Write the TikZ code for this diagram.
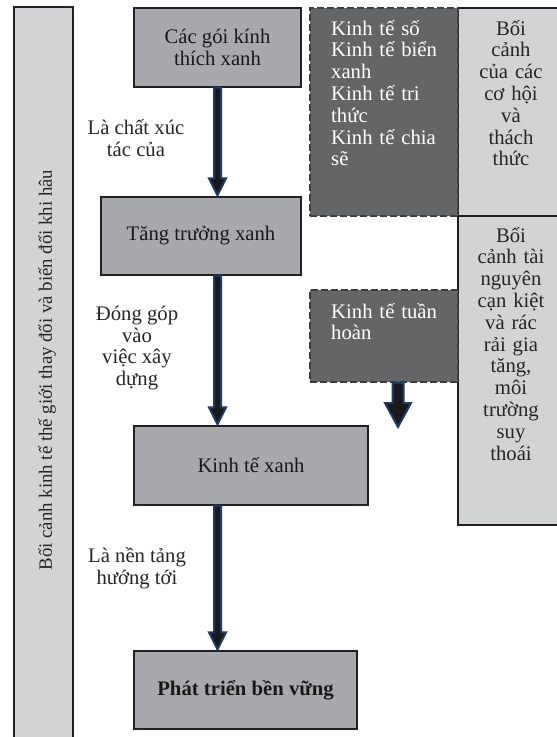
\documentclass[tikz,border=0pt]{standalone}
\usepackage{fontspec}
\setmainfont{Liberation Serif}
\usetikzlibrary{calc}
\definecolor{midgray}{HTML}{A7A9AC}
\definecolor{darkbox}{HTML}{646567}
\definecolor{lightbox}{HTML}{D1D3D4}
\definecolor{navyedge}{HTML}{1D3A6B}
\definecolor{edgecol}{HTML}{231F20}
\definecolor{dashcol}{HTML}{3C3C3E}
\newcommand\diagfont{\fontsize{20.7}{21.8}\selectfont}
\newcommand\barfont{\fontsize{18.8}{21}\selectfont}
\tikzset{
  mainbox/.style={draw=edgecol, line width=1.1pt, fill=midgray, inner sep=0pt, align=center, font=\diagfont, text=black!90},
  dashbox/.style={draw=dashcol, line width=1.8pt, dash pattern=on 7pt off 3pt, fill=darkbox, inner sep=0pt},
  ctxbox/.style={draw=edgecol, line width=1.1pt, fill=lightbox, inner sep=0pt},
  whitetext/.style={text=white, font=\diagfont, align=left, inner sep=0pt, text width=120pt},
  ctxtext/.style={text=black!85, font=\diagfont, align=center, inner sep=0pt, text width=90pt},
  lbl/.style={font=\diagfont, align=center, inner sep=0pt, text=black!85},
  arrowst/.style={draw=navyedge, line width=2pt, fill=black!90, line join=miter},
}
% fat arrow from node #1 to node #2, on the vertical line through node #3
\newcommand\fatarrow[3]{%
  \coordinate (#1-#2-from) at (#1.south -| #3.south);
  \coordinate (#1-#2-tip) at (#2.north -| #3.south);
  \filldraw[arrowst] ($(#1-#2-from)+(-3.5,0)$) -- ($(#1-#2-tip)+(-3.5,18)$) -- ($(#1-#2-tip)+(-8.5,18)$) -- ($(#1-#2-tip)+(0,1)$)
     -- ($(#1-#2-tip)+(8.5,18)$) -- ($(#1-#2-tip)+(3.5,18)$) -- ($(#1-#2-from)+(3.5,0)$) -- cycle;}
\begin{document}
\begin{tikzpicture}[x=1pt,y=1pt]
\useasboundingbox (0,0) rectangle (557,-737);
% left context bar
\node[ctxbox, minimum width=59pt, minimum height=734pt] (bar) at (43.5,-374) {};
\node[lbl, font=\barfont, rotate=90] (bartext) at (47,-370) {Bối cảnh kinh tế thế giới thay đổi và biến đổi khi hâu};
% main chain
\node[mainbox, minimum width=167pt, minimum height=79pt] (goi) at (217.5,-47.5) {Các gói kính\\thích xanh};
\node[mainbox, minimum width=200pt, minimum height=78pt] (tang) at (201,-236) {Tăng trưởng xanh};
\node[mainbox, minimum width=234pt, minimum height=79pt] (ktx) at (251,-465.5) {Kinh tế xanh};
\node[mainbox, minimum width=223pt, minimum height=78pt] (ptbv) at (245.5,-690) {\textbf{Phát triển bền vững}};
% right context boxes
\node[ctxbox, minimum width=108pt, minimum height=208pt] (ctx1) at (512,-112) {};
\node[ctxbox, minimum width=108pt, minimum height=309pt] (ctx2) at (512,-370.5) {};
\node[ctxtext, anchor=base] (ctx1t) at (511,-35) {Bối\\cảnh\\của các\\cơ hội\\và\\thách\\thức};
\node[ctxtext, anchor=base] (ctx2t) at (511,-242) {Bối\\cảnh tài\\nguyên\\cạn kiệt\\và rác\\rải gia\\tăng,\\môi\\trường\\suy\\thoái};
% dashed boxes
\node[dashbox, minimum width=148pt, minimum height=208pt] (kts) at (384,-112) {};
\node[whitetext, anchor=base west] (ktst) at (331,-35) {Kinh tế số\\Kinh tế biển\\xanh\\Kinh tế tri\\thức\\Kinh tế chia\\sẽ};
\node[dashbox, minimum width=148pt, minimum height=92pt] (kth) at (384,-336) {};
\node[whitetext, anchor=base west] (ktht) at (331,-318) {Kinh tế tuần\\hoàn};
% arrows
\fatarrow{goi}{tang}{goi}
\fatarrow{tang}{ktx}{goi}
\fatarrow{ktx}{ptbv}{goi}
\coordinate (khstart) at ($(kth.south)+(14,0)$);
\coordinate (khtip) at (398,-428);
\filldraw[arrowst] ($(khstart)+(-5.5,0)$) -- ($(khtip)+(-5.5,25)$) -- ($(khtip)+(-13,25)$) -- ($(khtip)+(0,1)$)
   -- ($(khtip)+(13,25)$) -- ($(khtip)+(5.5,25)$) -- ($(khstart)+(5.5,0)$) -- cycle;
% labels
\node[lbl] (l1) at (136,-138) {Là chất xúc\\tác của};
\node[lbl] (l2) at (137,-348) {Đóng góp\\vào\\việc xây\\dựng};
\node[lbl] (l3) at (137,-568) {Là nền tảng\\hướng tới};
\end{tikzpicture}
\end{document}
